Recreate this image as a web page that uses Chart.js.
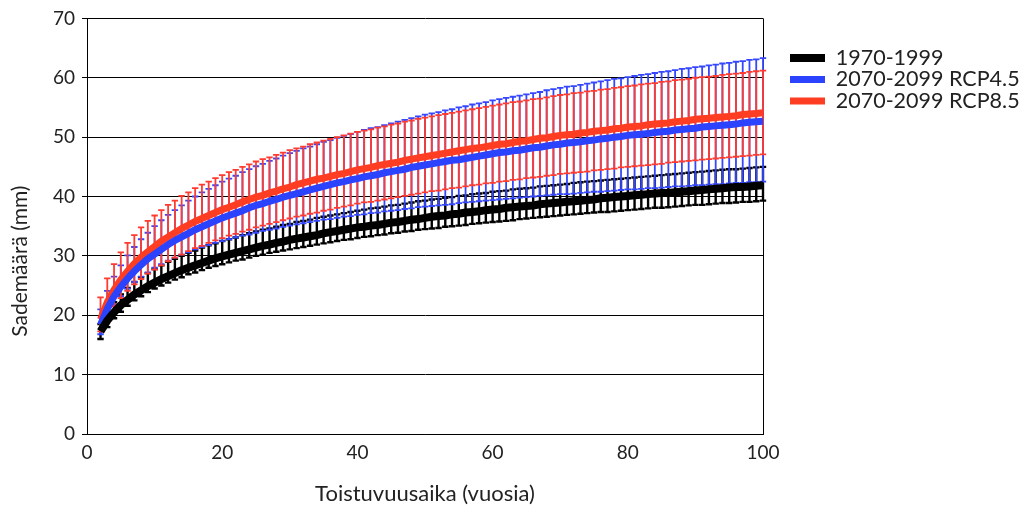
<!DOCTYPE html>
<html>
<head>
<meta charset="utf-8">
<script src="https://cdn.jsdelivr.net/npm/chart.js"></script>
<style>
  body { margin: 0; background: #fff; }
  #wrap { width: 1028px; height: 505px; }
</style>
</head>
<body>
<div id="wrap"><canvas id="sadechart"></canvas></div>
<script>
// return periods (years)
var returnPeriods = [2, 3, 4, 5, 6, 7, 8, 9, 10, 11, 12, 13, 14, 15, 16, 17, 18, 19, 20,
  21, 22, 23, 24, 25, 26, 27, 28, 29, 30, 31, 32, 33, 34, 35, 36, 37, 38, 39, 40,
  41, 42, 43, 44, 45, 46, 47, 48, 49, 50, 51, 52, 53, 54, 55, 56, 57, 58, 59, 60,
  61, 62, 63, 64, 65, 66, 67, 68, 69, 70, 71, 72, 73, 74, 75, 76, 77, 78, 79, 80,
  81, 82, 83, 84, 85, 86, 87, 88, 89, 90, 91, 92, 93, 94, 95, 96, 97, 98, 99, 100];

var seriesLabels = ['1970-1999', '2070-2099 RCP4.5', '2070-2099 RCP8.5'];

// 1970-1999
var obsMean = [17.3, 19.1, 20.5, 21.7, 22.6, 23.5, 24.2, 24.9, 25.5, 26.1, 26.6, 27.1, 27.6, 28.0, 28.4, 28.8, 29.2, 29.6, 29.9,
  30.2, 30.5, 30.8, 31.1, 31.4, 31.7, 31.9, 32.2, 32.4, 32.7, 32.9, 33.1, 33.3, 33.5, 33.8, 34.0, 34.2, 34.4, 34.6, 34.8,
  34.9, 35.1, 35.2, 35.4, 35.6, 35.7, 35.9, 36.1, 36.2, 36.4, 36.6, 36.7, 36.8, 37.0, 37.1, 37.3, 37.4, 37.5, 37.7, 37.8,
  37.9, 38.1, 38.2, 38.3, 38.4, 38.5, 38.7, 38.8, 38.9, 39.0, 39.1, 39.2, 39.3, 39.4, 39.5, 39.7, 39.8, 39.9, 40.0, 40.1,
  40.2, 40.3, 40.4, 40.5, 40.6, 40.6, 40.7, 40.8, 40.9, 41.0, 41.1, 41.2, 41.3, 41.4, 41.5, 41.6, 41.6, 41.7, 41.8, 41.9];
var obsUpper = [18.5, 20.6, 22.2, 23.5, 24.6, 25.6, 26.4, 27.1, 27.8, 28.4, 29.0, 29.5, 30.0, 30.5, 30.9, 31.4, 31.8, 32.1, 32.5,
  32.8, 33.1, 33.5, 33.8, 34.1, 34.4, 34.6, 34.9, 35.2, 35.4, 35.7, 35.9, 36.1, 36.4, 36.6, 36.8, 37.0, 37.2, 37.4, 37.6,
  37.8, 38.0, 38.1, 38.3, 38.5, 38.6, 38.8, 39.0, 39.2, 39.3, 39.5, 39.6, 39.8, 39.9, 40.1, 40.2, 40.4, 40.5, 40.6, 40.8,
  40.9, 41.0, 41.2, 41.3, 41.4, 41.5, 41.7, 41.8, 41.9, 42.0, 42.1, 42.3, 42.4, 42.5, 42.6, 42.7, 42.8, 42.9, 43.0, 43.1,
  43.2, 43.3, 43.4, 43.5, 43.6, 43.7, 43.8, 43.9, 44.0, 44.1, 44.2, 44.3, 44.4, 44.5, 44.6, 44.6, 44.7, 44.8, 44.9, 45.0];
var obsLower = [16.0, 18.0, 19.5, 20.6, 21.6, 22.5, 23.2, 23.9, 24.5, 25.0, 25.5, 26.0, 26.4, 26.9, 27.2, 27.6, 28.0, 28.3, 28.6,
  28.9, 29.2, 29.4, 29.7, 30.0, 30.2, 30.5, 30.7, 30.9, 31.1, 31.3, 31.5, 31.7, 31.9, 32.1, 32.3, 32.5, 32.7, 32.8, 33.0,
  33.2, 33.3, 33.5, 33.6, 33.8, 33.9, 34.1, 34.2, 34.4, 34.5, 34.6, 34.7, 34.9, 35.0, 35.1, 35.2, 35.4, 35.5, 35.6, 35.7,
  35.8, 35.9, 36.0, 36.2, 36.3, 36.4, 36.5, 36.6, 36.7, 36.8, 36.9, 37.0, 37.1, 37.2, 37.3, 37.4, 37.4, 37.5, 37.6, 37.7,
  37.8, 37.9, 38.0, 38.1, 38.1, 38.2, 38.3, 38.4, 38.5, 38.6, 38.6, 38.7, 38.8, 38.9, 38.9, 39.0, 39.1, 39.1, 39.2, 39.3];

// 2070-2099 RCP4.5
var rcp45Mean = [18.4, 21.1, 23.2, 24.8, 26.2, 27.4, 28.5, 29.5, 30.3, 31.1, 31.9, 32.6, 33.2, 33.8, 34.4, 34.9, 35.4, 35.9, 36.4,
  36.8, 37.2, 37.6, 38.1, 38.5, 38.8, 39.2, 39.5, 39.9, 40.2, 40.5, 40.8, 41.1, 41.4, 41.7, 42.0, 42.3, 42.5, 42.8, 43.0,
  43.3, 43.5, 43.7, 44.0, 44.2, 44.4, 44.6, 44.9, 45.1, 45.3, 45.5, 45.7, 45.9, 46.1, 46.2, 46.4, 46.6, 46.8, 47.0, 47.2,
  47.4, 47.5, 47.7, 47.8, 48.0, 48.2, 48.3, 48.5, 48.7, 48.8, 49.0, 49.1, 49.2, 49.4, 49.5, 49.7, 49.8, 50.0, 50.1, 50.3,
  50.4, 50.5, 50.6, 50.8, 50.9, 51.0, 51.2, 51.3, 51.4, 51.5, 51.7, 51.8, 51.9, 52.0, 52.1, 52.2, 52.4, 52.5, 52.6, 52.7];
var rcp45Upper = [21.0, 24.1, 26.5, 28.4, 30.1, 31.5, 32.8, 33.9, 35.0, 36.0, 36.9, 37.7, 38.5, 39.3, 40.0, 40.7, 41.3, 41.9, 42.5,
  43.0, 43.5, 44.1, 44.6, 45.1, 45.5, 46.0, 46.4, 46.9, 47.3, 47.7, 48.1, 48.4, 48.8, 49.2, 49.5, 49.9, 50.2, 50.5, 50.9,
  51.2, 51.5, 51.7, 52.0, 52.3, 52.6, 52.9, 53.2, 53.5, 53.8, 54.0, 54.2, 54.5, 54.7, 55.0, 55.2, 55.5, 55.7, 55.9, 56.2,
  56.4, 56.6, 56.8, 57.0, 57.2, 57.4, 57.6, 57.9, 58.1, 58.3, 58.5, 58.6, 58.8, 59.0, 59.2, 59.4, 59.6, 59.8, 59.9, 60.1,
  60.3, 60.5, 60.6, 60.8, 61.0, 61.1, 61.3, 61.5, 61.6, 61.8, 61.9, 62.1, 62.2, 62.4, 62.5, 62.7, 62.8, 63.0, 63.1, 63.3];
var rcp45Lower = [16.8, 19.7, 21.7, 23.2, 24.5, 25.6, 26.5, 27.2, 28.0, 28.6, 29.2, 29.7, 30.2, 30.6, 31.1, 31.5, 31.8, 32.2, 32.5,
  32.8, 33.1, 33.4, 33.6, 33.9, 34.2, 34.4, 34.6, 34.9, 35.1, 35.3, 35.5, 35.7, 35.9, 36.1, 36.2, 36.4, 36.6, 36.7, 36.9,
  37.0, 37.2, 37.3, 37.5, 37.6, 37.7, 37.9, 38.0, 38.2, 38.3, 38.4, 38.5, 38.6, 38.7, 38.9, 39.0, 39.1, 39.2, 39.3, 39.4,
  39.5, 39.6, 39.7, 39.8, 39.9, 40.0, 40.1, 40.2, 40.3, 40.4, 40.4, 40.5, 40.6, 40.7, 40.8, 40.8, 40.9, 41.0, 41.1, 41.2,
  41.2, 41.3, 41.4, 41.4, 41.5, 41.6, 41.7, 41.7, 41.8, 41.9, 41.9, 42.0, 42.1, 42.1, 42.2, 42.3, 42.3, 42.4, 42.4, 42.5];

// 2070-2099 RCP8.5
var rcp85Mean = [19.3, 22.2, 24.3, 26.0, 27.4, 28.7, 29.8, 30.7, 31.6, 32.5, 33.2, 33.9, 34.6, 35.2, 35.8, 36.3, 36.8, 37.3, 37.8,
  38.2, 38.6, 39.1, 39.5, 39.9, 40.2, 40.6, 40.9, 41.3, 41.6, 42.0, 42.3, 42.6, 42.9, 43.1, 43.4, 43.7, 43.9, 44.2, 44.5,
  44.7, 44.9, 45.2, 45.4, 45.6, 45.8, 46.1, 46.3, 46.5, 46.7, 46.9, 47.1, 47.3, 47.5, 47.7, 47.9, 48.1, 48.2, 48.4, 48.6,
  48.8, 48.9, 49.1, 49.3, 49.4, 49.6, 49.8, 49.9, 50.1, 50.3, 50.4, 50.5, 50.7, 50.8, 51.0, 51.1, 51.2, 51.4, 51.5, 51.7,
  51.8, 51.9, 52.1, 52.2, 52.3, 52.4, 52.6, 52.7, 52.8, 53.0, 53.1, 53.2, 53.3, 53.4, 53.5, 53.6, 53.8, 53.9, 54.0, 54.1];
var rcp85Upper = [23.0, 26.2, 28.6, 30.6, 32.2, 33.5, 34.8, 35.9, 36.8, 37.7, 38.6, 39.3, 40.1, 40.7, 41.4, 42.0, 42.5, 43.1, 43.6,
  44.1, 44.5, 45.0, 45.4, 45.9, 46.3, 46.6, 47.0, 47.4, 47.8, 48.1, 48.4, 48.8, 49.1, 49.4, 49.7, 50.0, 50.3, 50.6, 50.9,
  51.1, 51.3, 51.6, 51.8, 52.1, 52.3, 52.6, 52.8, 53.1, 53.3, 53.5, 53.7, 53.9, 54.1, 54.3, 54.5, 54.7, 54.9, 55.1, 55.3,
  55.5, 55.7, 55.9, 56.0, 56.2, 56.4, 56.5, 56.7, 56.9, 57.1, 57.2, 57.4, 57.5, 57.7, 57.8, 58.0, 58.1, 58.3, 58.4, 58.6,
  58.7, 58.9, 59.0, 59.1, 59.3, 59.4, 59.6, 59.7, 59.8, 60.0, 60.1, 60.2, 60.3, 60.5, 60.6, 60.7, 60.8, 61.0, 61.1, 61.2];
var rcp85Lower = [17.3, 19.7, 21.5, 22.9, 24.1, 25.2, 26.1, 27.0, 27.7, 28.4, 29.1, 29.7, 30.2, 30.8, 31.3, 31.7, 32.2, 32.6, 33.0,
  33.4, 33.7, 34.1, 34.4, 34.8, 35.1, 35.4, 35.7, 36.0, 36.3, 36.6, 36.8, 37.1, 37.3, 37.6, 37.8, 38.1, 38.3, 38.5, 38.8,
  39.0, 39.1, 39.3, 39.5, 39.7, 39.9, 40.1, 40.3, 40.5, 40.7, 40.9, 41.0, 41.2, 41.4, 41.5, 41.7, 41.9, 42.0, 42.2, 42.3,
  42.5, 42.6, 42.8, 42.9, 43.1, 43.2, 43.3, 43.5, 43.6, 43.8, 43.9, 44.0, 44.1, 44.2, 44.4, 44.5, 44.6, 44.7, 44.9, 45.0,
  45.1, 45.2, 45.3, 45.4, 45.5, 45.7, 45.8, 45.9, 46.0, 46.1, 46.2, 46.3, 46.4, 46.5, 46.6, 46.7, 46.8, 46.9, 47.0, 47.1];

var yTicks = [0, 10, 20, 30, 40, 50, 60, 70];
var xTicks = [0, 20, 40, 60, 80, 100];

function points(values) {
  return returnPeriods.map(function (t, i) { return { x: t, y: values[i] }; });
}

// error bars, drawn under the mean lines (black first, red last)
var errorRanges = [
  { upper: obsUpper, lower: obsLower, color: '#000000', width: 2.4 },
  { upper: rcp45Upper, lower: rcp45Lower, color: '#3447ff', width: 1.8 },
  { upper: rcp85Upper, lower: rcp85Lower, color: '#ff3b30', width: 1.8 }
];

var errorBars = {
  id: 'errorBars',
  beforeDatasetsDraw: function (chart) {
    var ctx = chart.ctx, x = chart.scales.x, y = chart.scales.y;
    ctx.save();
    errorRanges.forEach(function (r) {
      ctx.strokeStyle = r.color;
      ctx.lineWidth = r.width;
      ctx.beginPath();
      returnPeriods.forEach(function (t, i) {
        var px = x.getPixelForValue(t);
        var top = y.getPixelForValue(r.upper[i]);
        var bot = y.getPixelForValue(r.lower[i]);
        ctx.moveTo(px, top); ctx.lineTo(px, bot);
        ctx.moveTo(px - 3.2, top); ctx.lineTo(px + 3.2, top);
        ctx.moveTo(px - 3.2, bot); ctx.lineTo(px + 3.2, bot);
      });
      ctx.stroke();
    });
    ctx.restore();
  }
};

// fixed legend width so the plot ends at the same place as the original
var legendWidth = {
  id: 'legendWidth',
  beforeLayout: function (chart) {
    var lg = chart.legend;
    if (lg && !lg._fixed) {
      var fit = lg.fit;
      lg.fit = function () { fit.call(this); this.width = 238; };
      lg._fixed = true;
    }
  }
};

Chart.defaults.font.family = 'Lato';
Chart.defaults.color = '#222';

var ctx = document.getElementById('sadechart').getContext('2d');
var chart = new Chart(ctx, {
  type: 'line',
  data: {
    datasets: [{
      label: seriesLabels[0],
      data: points(obsMean),
      borderColor: '#000000',
      backgroundColor: '#000000',
      borderWidth: 8
    }, {
      label: seriesLabels[1],
      data: points(rcp45Mean),
      borderColor: '#2b42ff',
      backgroundColor: '#2b42ff',
      borderWidth: 7
    }, {
      label: seriesLabels[2],
      data: points(rcp85Mean),
      borderColor: '#ff3d22',
      backgroundColor: '#ff3d22',
      borderWidth: 7
    }]
  },
  options: {
    responsive: true,
    maintainAspectRatio: false,
    devicePixelRatio: 1,
    animation: false,
    layout: { padding: { top: 16, left: 0, right: 0, bottom: 0 } },
    elements: { point: { radius: 0 }, line: { tension: 0 } },
    scales: {
      x: {
        type: 'linear',
        min: 0,
        max: 100,
        afterBuildTicks: function (s) { s.ticks = xTicks.map(function (v) { return { value: v }; }); },
        afterFit: function (s) { s.height = 71; },
        ticks: { font: { size: 19 }, color: '#222', padding: 7, maxRotation: 0 },
        grid: {
          drawTicks: false,
          color: function (c) { return c.tick && c.tick.value === 100 ? '#000' : 'rgba(0,0,0,0)'; }
        },
        border: { color: '#000', width: 1 },
        title: {
          display: true,
          text: 'Toistuvuusaika (vuosia)',
          font: { size: 22 },
          color: '#222',
          padding: { top: 0, bottom: -2 }
        }
      },
      y: {
        min: 0,
        max: 70,
        afterBuildTicks: function (s) { s.ticks = yTicks.map(function (v) { return { value: v }; }); },
        afterFit: function (s) { s.width = 87; },
        ticks: { font: { size: 19 }, color: '#222', padding: 7 },
        grid: { color: '#000', lineWidth: 1, tickLength: 5, tickColor: '#000' },
        border: { color: '#000', width: 1 },
        title: {
          display: true,
          text: 'Sademäärä (mm)             ',
          font: { size: 21 },
          color: '#222',
          padding: { top: 8, bottom: 0 }
        }
      },
      gap: {
        type: 'linear',
        position: 'right',
        display: true,
        grid: { display: false, drawTicks: false },
        border: { display: false },
        ticks: { display: false },
        afterFit: function (s) { s.width = 27; }
      }
    },
    plugins: {
      legend: {
        position: 'right',
        align: 'start',
        title: { display: true, text: '', font: { size: 20 }, padding: { top: 7.25, bottom: 0 } },
        labels: {
          usePointStyle: true,
          pointStyle: 'line',
          pointStyleWidth: 35,
          font: { size: 21.5 },
          color: '#222',
          padding: 0
        }
      },
      tooltip: { enabled: false }
    }
  },
  plugins: [errorBars, legendWidth]
});
</script>
</body>
</html>
